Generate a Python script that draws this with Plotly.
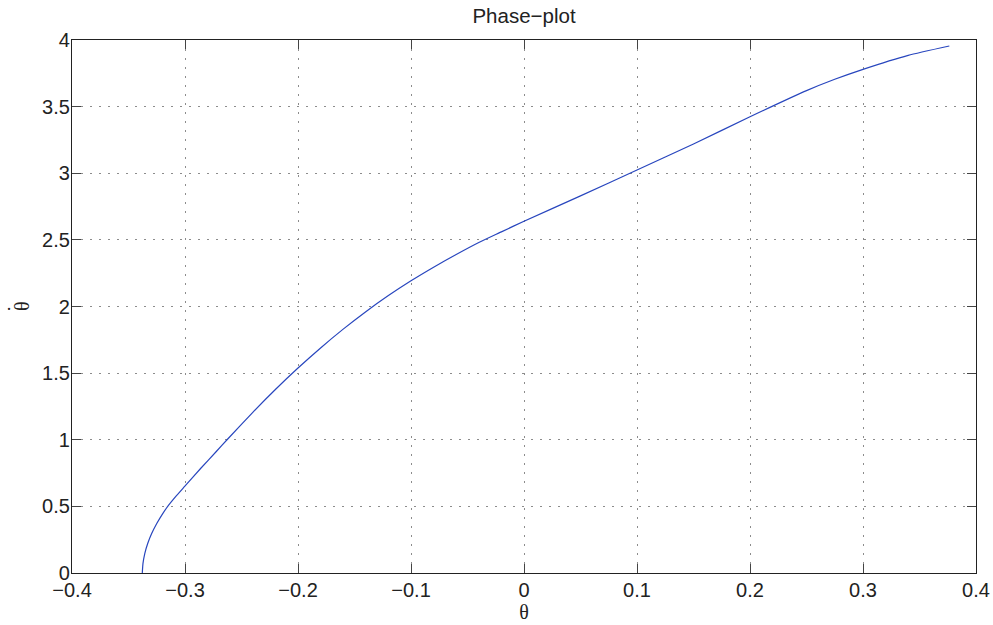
import plotly.graph_objects as go

theta = [-0.3378, -0.3372, -0.3356, -0.3330, -0.3295, -0.3250, -0.3197, -0.3153,
         -0.3083, -0.3005, -0.2860, -0.2725, -0.2628, -0.2400, -0.2200, -0.2000,
         -0.1800, -0.1600, -0.1400, -0.1200, -0.1000, -0.0800, -0.0600, -0.0400,
         -0.0200, 0.0, 0.0500, 0.1000, 0.1500, 0.2000, 0.2500, 0.2750, 0.3000,
         0.3400, 0.3764]
theta_dot = [0.0, 0.070, 0.146, 0.221, 0.296, 0.371, 0.446, 0.500,
             0.573, 0.648, 0.786, 0.910, 1.000, 1.206, 1.377, 1.538,
             1.689, 1.830, 1.961, 2.082, 2.193, 2.295, 2.390, 2.480,
             2.560, 2.640, 2.830, 3.024, 3.220, 3.424, 3.620, 3.705, 3.780,
             3.885, 3.955]

x_ticks = [-0.4, -0.3, -0.2, -0.1, 0, 0.1, 0.2, 0.3, 0.4]
x_labels = ["\u22120.4", "\u22120.3", "\u22120.2", "\u22120.1", "0", "0.1", "0.2", "0.3", "0.4"]
y_ticks = [0, 0.5, 1, 1.5, 2, 2.5, 3, 3.5, 4]
y_labels = ["0", "0.5", "1", "1.5", "2", "2.5", "3", "3.5", "4"]

font_family = "Liberation Sans, Arial, Helvetica, sans-serif"
serif_family = "Liberation Serif, Times New Roman, serif"

W, H = 993, 625
L, T, R, B = 72, 40, 17, 52
plot_w = W - L - R
plot_h = H - T - B

fig = go.Figure()
fig.add_trace(go.Scatter(
    x=theta, y=theta_dot, mode="lines",
    line=dict(color="rgb(40,70,190)", width=1.2, shape="spline", smoothing=0.5),
    showlegend=False, hoverinfo="x+y",
))

axis_common = dict(
    showline=True, linecolor="#222", linewidth=1.3, mirror="ticks",
    ticks="inside", ticklen=9, tickwidth=1, tickcolor="#444",
    showgrid=True, gridcolor="#8c8c8c", gridwidth=1, griddash="2px,7px",
    zeroline=False, automargin=False,
    tickfont=dict(size=20, color="#222", family=font_family),
)

fig.update_xaxes(range=[-0.4, 0.4], tickvals=x_ticks, ticktext=x_labels,
                 ticklabelstandoff=-1,
                 title=dict(text="\u03b8", font=dict(size=20, color="#222", family=serif_family), standoff=2),
                 **axis_common)
fig.update_yaxes(range=[0, 4], tickvals=y_ticks, ticktext=y_labels,
                 ticklabelstandoff=-3,
                 **axis_common)

# y-axis label: theta with a dot above it (rotated)
fig.add_annotation(text="\u03b8", xref="paper", yref="paper",
                   x=(22 - L) / plot_w, y=(H - B - 306) / plot_h,
                   xanchor="center", yanchor="middle",
                   textangle=-90, showarrow=False,
                   font=dict(size=20, color="#222", family=serif_family))
fig.add_annotation(text="\u00b7", xref="paper", yref="paper",
                   x=(9 - L) / plot_w, y=(H - B - 306) / plot_h,
                   xanchor="center", yanchor="middle", yshift=-3,
                   showarrow=False,
                   font=dict(size=18, color="#222", family=serif_family))

fig.update_layout(
    width=W, height=H,
    margin=dict(l=L, r=R, t=T, b=B),
    paper_bgcolor="white", plot_bgcolor="white",
    title=dict(text="Phase\u2212plot", x=524 / W, xanchor="center",
               y=1 - 16 / H, yanchor="middle",
               font=dict(size=20.5, color="#222", family=font_family)),
    font=dict(family=font_family),
)

fig.write_html("out.html", config={"displayModeBar": False},
               post_script="document.body.style.margin='0';")
